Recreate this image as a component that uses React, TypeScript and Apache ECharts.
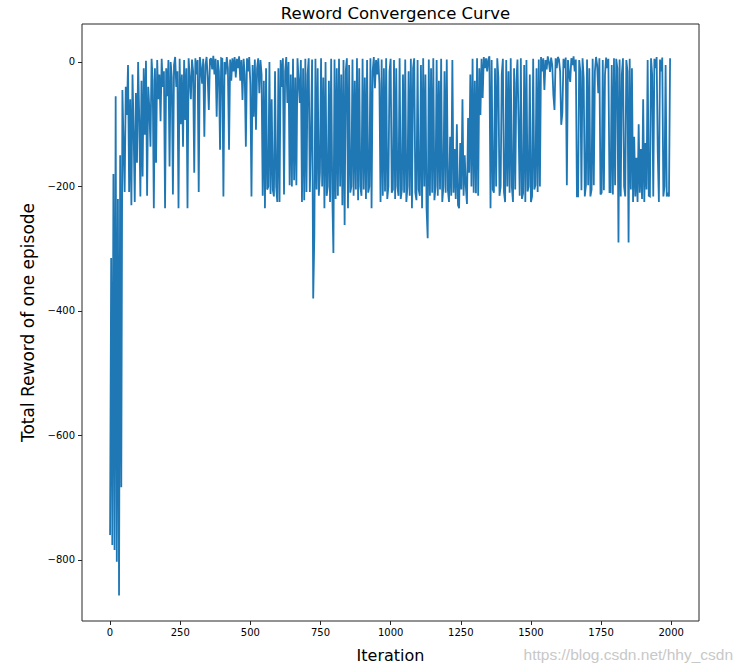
import React, { useEffect, useRef } from "react";
import * as echarts from "echarts";

const chartTitle = "Reword Convergence Curve";
const xAxisName = "Iteration";
const yAxisName = "Total Reword of one episode";
const watermark = "https://blog.csdn.net/hhy_csdn";

const xTicks = [0, 250, 500, 750, 1000, 1250, 1500, 1750, 2000];
const yTicks = [-800, -600, -400, -200, 0];

// Reward, one value every 4 iterations.
const iterationStep = 4;
const rewards0000 = [
  -760, -315, -776, -180, -784, -55, -803, -220, -857, -150, -683, -45,
  -130, -209, -40, -85, -5, -209, -60, -230, -20, -110, -225, -50, -162, 0,
  -90, -216, -30, -184, -10, -117, 2, -215, -40, -75, -136, 5, -30, -235,
  -10, -162, 3, -60, -20, -95, 5, -40, -15, -235,
];
const rewards0200 = [
  -10, -55, 3, -168, 0, -25, -213, -5, 8, -40, -15, -235, 5, -100, -20,
  -136, 3, -93, -10, -235, 6, -25, -60, 4, -15, -178, 6, -20, 3, -209, 8,
  -10, -35, 5, -120, -5, 8, -25, -77, 4, 6, -12, 10, -20, 5, -88, 3, -15,
  -141, 6,
];
const rewards0400 = [
  5, -216, 0, -20, 8, -10, -141, 4, -30, 6, -15, 8, -25, 5, -10, 9, -30, 3,
  -61, 5, -20, -136, 6, -15, 8, -35, -216, -5, -88, 4, -109, -10, 6, -50, 3,
  -20, -215, -30, -235, -10, -205, -200, 0, -212, -60, -205, -216, -15,
  -200, -225,
];
const rewards0600 = [
  -10, -225, 3, -40, 6, -213, -15, 8, -66, 0, -198, -20, -200, 5, -190, -25,
  -198, 6, -30, -66, 3, -225, -10, -222, 5, -209, -20, 6, -209, -120, 4,
  -380, -281, 5, -205, -10, -215, -178, 6, -200, -25, -235, 0, -215, -200,
  -30, -225, 5, -210, -307,
];
const rewards0800 = [
  4, -220, -10, -215, 5, -200, -20, -230, 3, -262, -15, 6, -235, -5, -210,
  -200, 4, -215, -30, -205, 6, -222, -10, -200, -215, 5, -205, -25, -220, 3,
  -210, -200, 6, -235, -15, 8, -42, 3, -20, 6, -35, -225, 4, -215, -10,
  -208, 6, -220, -200, -15,
];
const rewards1000 = [
  5, -210, -205, 3, -220, -10, -200, -215, 6, -220, -205, -20, -210, 4,
  -225, -200, -15, -215, 5, -235, -10, 6, -210, -222, 3, -205, -215, -5,
  -235, 6, -200, -20, -235, -283, 4, -215, -10, -210, 6, -222, -200, 3,
  -215, -30, -205, 5, -225, -200, -15, -210,
];
const rewards1200 = [
  4, -205, -225, -120, -215, 3, -210, -140, -220, -100, -230, -235, -130,
  -205, -60, -215, -150, -200, -228, -90, -178, -20, -200, 5, -210, -30,
  -211, 6, -215, -10, -85, 5, -58, 8, -10, 6, -15, 4, 9, -235, 3, -205,
  -210, -10, -200, 6, -25, -215, -200, -20,
];
const rewards1400 = [
  5, -209, -225, 3, -200, -15, -210, 6, -200, -225, -10, -205, -33, 4,
  -101, -215, 6, -220, -211, -5, -225, 3, -208, -200, -20, -225, -216, 5,
  -205, -198, -10, -209, 4, -200, 8, -15, 6, -45, 3, -12, 9, 0, -16, 7, -5,
  -53, -77, 6, -10, 8,
];
const rewards1600 = [
  4, -15, -101, -82, 5, -10, 7, -198, 3, -20, -32, 6, -5, 9, -15, 4, -216,
  -216, 3, -15, -206, 6, -26, -216, -198, 4, -198, -10, -216, -205, 5, -198,
  -15, 8, -5, -50, 6, -213, -210, 3, -206, -20, 7, -10, 5, -209, -209, -5,
  -213, 6,
];
const rewards1800 = [
  -198, 5, -10, -290, 4, -216, -20, 6, -200, -216, 3, -15, -290, 5, -205,
  -10, -225, -120, -216, -154, -225, -100, -210, -140, -220, -60, -225,
  -130, -205, 3, -215, -216, 6, -20, -216, 5, -10, 8, -146, -225, 4, -15, 7,
  -216, -200, -5, -216, -210, -216, 6,
];

const rewardChunks = [
  rewards0000, rewards0200, rewards0400, rewards0600, rewards0800,
  rewards1000, rewards1200, rewards1400, rewards1600, rewards1800,
];

export default function App() {
  const ref = useRef<HTMLDivElement>(null);

  useEffect(() => {
    if (!ref.current) return;
    const chart = echarts.init(ref.current, undefined, { renderer: "svg" });
    const seriesData: number[][] = [];
    let iteration = 0;
    rewardChunks.forEach((chunk) => {
      chunk.forEach((v) => {
        seriesData.push([iteration, v]);
        iteration += iterationStep;
      });
    });
    const font = "DejaVu Sans";
    chart.setOption({
      animation: false,
      backgroundColor: "#ffffff",
      textStyle: { fontFamily: font },
      title: {
        text: chartTitle,
        left: 390.5,
        top: 0,
        textAlign: "center",
        textStyle: { fontSize: 16.5, fontWeight: "normal", color: "#000", fontFamily: font },
      },
      grid: {
        left: 82,
        right: 41,
        top: 24,
        bottom: 51,
        show: true,
        borderColor: "#262626",
        borderWidth: 1,
        backgroundColor: "transparent",
      },
      xAxis: {
        type: "value",
        min: -100,
        max: 2099,
        name: xAxisName,
        nameLocation: "middle",
        nameGap: 26,
        nameTextStyle: { fontSize: 16, color: "#000", fontFamily: font },
        axisLine: { show: false, onZero: false },
        splitLine: { show: false },
        axisTick: {
          show: true,
          inside: false,
          length: 4,
          customValues: xTicks,
          lineStyle: { color: "#262626", width: 1 },
        },
        axisLabel: {
          customValues: xTicks,
          fontSize: 10,
          color: "#000",
          margin: 6,
          fontFamily: font,
          formatter: (v: number) => String(v),
        },
      },
      yAxis: {
        type: "value",
        min: -898,
        max: 61,
        name: yAxisName,
        nameLocation: "middle",
        nameGap: 44,
        nameTextStyle: { fontSize: 17, color: "#000", fontFamily: font },
        axisLine: { show: false, onZero: false },
        splitLine: { show: false },
        axisTick: {
          show: true,
          inside: false,
          length: 4,
          customValues: yTicks,
          lineStyle: { color: "#262626", width: 1 },
        },
        axisLabel: {
          customValues: yTicks,
          fontSize: 10,
          color: "#000",
          margin: 7,
          fontFamily: font,
          formatter: (v: number) => (v < 0 ? "\u2212" + Math.abs(v) : String(v)),
        },
      },
      graphic: [
        {
          type: "text",
          right: 7,
          top: 646,
          style: {
            text: watermark,
            fontSize: 15.5,
            fontFamily: "Liberation Sans",
            fill: "#c8c8c8",
          },
        },
      ],
      series: [
        {
          type: "line",
          data: seriesData,
          showSymbol: false,
          symbol: "none",
          lineStyle: { color: "#1f77b4", width: 1.8, join: "miter", miterLimit: 2 },
          itemStyle: { color: "#1f77b4" },
        },
      ],
    });
    return () => chart.dispose();
  }, []);

  return (
    <div
      ref={ref}
      style={{ position: "fixed", left: 0, top: 0, width: 740, height: 672, background: "#fff" }}
    />
  );
}
